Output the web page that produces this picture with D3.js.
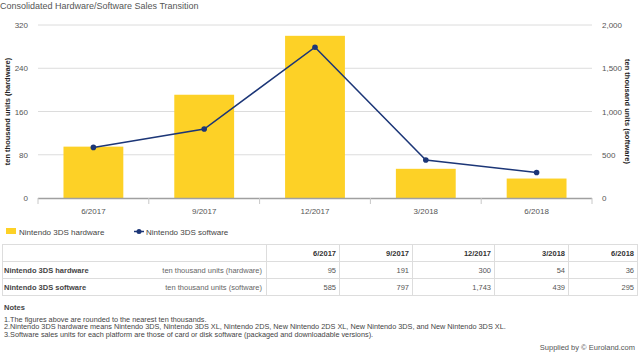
<!DOCTYPE html>
<html>
<head>
<meta charset="utf-8">
<script src="https://cdn.jsdelivr.net/npm/d3@7"></script>
<style>
  body { margin: 0; background: #fff; }
  svg { font-family: "Liberation Sans", Arial, sans-serif; display: block; }
</style>
</head>
<body>
<div id="chart"></div>
<script>
// data
const periods = ["6/2017", "9/2017", "12/2017", "3/2018", "6/2018"];
const hardware = [95, 191, 300, 54, 36];
const software = [585, 797, 1743, 439, 295];
const leftTicks = [0, 80, 160, 240, 320];
const rightTicks = [0, 500, 1000, 1500, 2000];
const notes = [
  "1.The figures above are rounded to the nearest ten thousands.",
  "2.Nintendo 3DS hardware means Nintendo 3DS, Nintendo 3DS XL, Nintendo 2DS, New Nintendo 2DS XL, New Nintendo 3DS, and New Nintendo 3DS XL.",
  "3.Software sales units for each platform are those of card or disk software (packaged and downloadable versions)."
];

(function () {
  const W = 640, H = 352;
  const yellow = "#fdd126", navy = "#1c3677";

  const svg = d3.select("#chart").append("svg")
    .attr("width", W).attr("height", H);

  svg.append("text")
    .attr("x", 0).attr("y", 9)
    .attr("font-size", 9).attr("fill", "#555")
    .text("Consolidated Hardware/Software Sales Transition");

  // scales
  const x = d3.scaleBand().domain(periods).range([38, 592]);
  const yL = d3.scaleLinear().domain([0, 320]).range([198, 25]);
  const yR = d3.scaleLinear().domain([0, 2000]).range([198, 25]);

  // grid
  svg.append("g").selectAll("line")
    .data(leftTicks.slice(1))
    .join("line")
    .attr("x1", 38).attr("x2", 592)
    .attr("y1", d => yL(d)).attr("y2", d => yL(d))
    .attr("stroke", "#dcdcdc").attr("stroke-width", 1);

  // left ticks
  svg.append("g").selectAll("text")
    .data(leftTicks)
    .join("text")
    .attr("x", 28).attr("y", d => yL(d) + 3)
    .attr("text-anchor", "end")
    .attr("font-size", 8).attr("fill", "#555")
    .text(d => d);

  // right ticks
  svg.append("g").selectAll("text")
    .data(rightTicks)
    .join("text")
    .attr("x", 602).attr("y", d => yR(d) + 3)
    .attr("font-size", 8).attr("fill", "#555")
    .text(d => d3.format(",")(d));

  // axis titles
  svg.append("text")
    .attr("transform", "translate(10," + (yL(160)) + ") rotate(-90)")
    .attr("text-anchor", "middle")
    .attr("font-size", 7.5).attr("font-weight", "bold").attr("fill", "#222")
    .text("ten thousand units (hardware)");
  svg.append("text")
    .attr("transform", "translate(625," + (yR(1000)) + ") rotate(90)")
    .attr("text-anchor", "middle")
    .attr("font-size", 7.5).attr("font-weight", "bold").attr("fill", "#222")
    .text("ten thousand units (software)");

  // bars
  const bw = x.bandwidth() * 0.54;
  svg.append("g").selectAll("rect")
    .data(periods)
    .join("rect")
    .attr("x", (d) => x(d) + (x.bandwidth() - bw) / 2)
    .attr("width", bw)
    .attr("y", (d, i) => yL(hardware[i]))
    .attr("height", (d, i) => yL(0) - yL(hardware[i]))
    .attr("fill", yellow);

  // x axis
  svg.append("line")
    .attr("x1", 38).attr("x2", 592)
    .attr("y1", 198.5).attr("y2", 198.5)
    .attr("stroke", "#a0a0a0").attr("stroke-width", 1.5);
  const bounds = periods.map(d => x(d)).concat([x.range()[1]]);
  svg.append("g").selectAll("line")
    .data(bounds)
    .join("line")
    .attr("x1", d => d).attr("x2", d => d)
    .attr("y1", 198).attr("y2", 204)
    .attr("stroke", "#c8c8c8");
  svg.append("g").selectAll("text")
    .data(periods)
    .join("text")
    .attr("x", d => x(d) + x.bandwidth() / 2).attr("y", 214)
    .attr("text-anchor", "middle")
    .attr("font-size", 8).attr("fill", "#555")
    .text(d => d);

  // software line
  const line = d3.line()
    .x((d, i) => x(periods[i]) + x.bandwidth() / 2)
    .y(d => yR(d));
  svg.append("path")
    .datum(software)
    .attr("d", line)
    .attr("fill", "none")
    .attr("stroke", navy).attr("stroke-width", 1.5);
  svg.append("g").selectAll("circle")
    .data(software)
    .join("circle")
    .attr("cx", (d, i) => x(periods[i]) + x.bandwidth() / 2)
    .attr("cy", d => yR(d))
    .attr("r", 2.8)
    .attr("fill", navy);

  // legend
  svg.append("rect").attr("x", 6).attr("y", 228).attr("width", 10).attr("height", 6).attr("fill", yellow);
  svg.append("text").attr("x", 19).attr("y", 234.5).attr("font-size", 8).attr("fill", "#444").text("Nintendo 3DS hardware");
  svg.append("line").attr("x1", 134).attr("x2", 144).attr("y1", 231.5).attr("y2", 231.5).attr("stroke", navy).attr("stroke-width", 1.5);
  svg.append("circle").attr("cx", 139).attr("cy", 231.5).attr("r", 2.5).attr("fill", navy);
  svg.append("text").attr("x", 146).attr("y", 234.5).attr("font-size", 8).attr("fill", "#444").text("Nintendo 3DS software");

  // table
  const colX = [2, 266, 339, 412, 494, 568, 637];
  const rowY = [244, 261, 278, 295];
  const rows = [
    { name: "Nintendo 3DS hardware", unit: "ten thousand units (hardware)", vals: hardware },
    { name: "Nintendo 3DS software", unit: "ten thousand units (software)", vals: software }
  ];
  const tbl = svg.append("g");
  tbl.append("rect")
    .attr("x", colX[0] + 0.5).attr("y", rowY[0] + 0.5)
    .attr("width", colX[6] - colX[0]).attr("height", rowY[3] - rowY[0])
    .attr("fill", "none").attr("stroke", "#ddd");
  tbl.selectAll("line.h")
    .data(rowY.slice(1, 3))
    .join("line")
    .attr("x1", colX[0]).attr("x2", colX[6])
    .attr("y1", d => d + 0.5).attr("y2", d => d + 0.5)
    .attr("stroke", "#ddd");
  tbl.selectAll("line.v")
    .data(colX.slice(1, 6))
    .join("line")
    .attr("x1", d => d + 0.5).attr("x2", d => d + 0.5)
    .attr("y1", rowY[0]).attr("y2", rowY[3])
    .attr("stroke", "#ddd");

  tbl.selectAll("text.hd")
    .data(periods)
    .join("text")
    .attr("x", (d, i) => colX[i + 2] - 3).attr("y", rowY[0] + 11.5)
    .attr("text-anchor", "end")
    .attr("font-size", 7.5).attr("font-weight", "bold").attr("fill", "#333")
    .text(d => d);

  rows.forEach((r, ri) => {
    const yy = rowY[ri + 1] + 11.5;
    tbl.append("text").attr("x", 4).attr("y", yy)
      .attr("font-size", 7.5).attr("font-weight", "bold").attr("fill", "#444")
      .text(r.name);
    tbl.append("text").attr("x", colX[1] - 4).attr("y", yy)
      .attr("text-anchor", "end")
      .attr("font-size", 7.5).attr("fill", "#666")
      .text(r.unit);
    tbl.append("g").selectAll("text")
      .data(r.vals)
      .join("text")
      .attr("x", (d, i) => colX[i + 2] - 3).attr("y", yy)
      .attr("text-anchor", "end")
      .attr("font-size", 7.5).attr("fill", "#555")
      .text(d => d3.format(",")(d));
  });

  // notes
  svg.append("text").attr("x", 4).attr("y", 310)
    .attr("font-size", 7.5).attr("font-weight", "bold").attr("fill", "#444").text("Notes");
  svg.append("g").selectAll("text")
    .data(notes)
    .join("text")
    .attr("x", 4).attr("y", (d, i) => 321.5 + i * 7.8)
    .attr("font-size", 7.3).attr("fill", "#444")
    .text(d => d);

  svg.append("text").attr("x", 635).attr("y", 350)
    .attr("text-anchor", "end")
    .attr("font-size", 7.5).attr("fill", "#555")
    .text("Supplied by \u00A9 Euroland.com");
})();
</script>
</body>
</html>
